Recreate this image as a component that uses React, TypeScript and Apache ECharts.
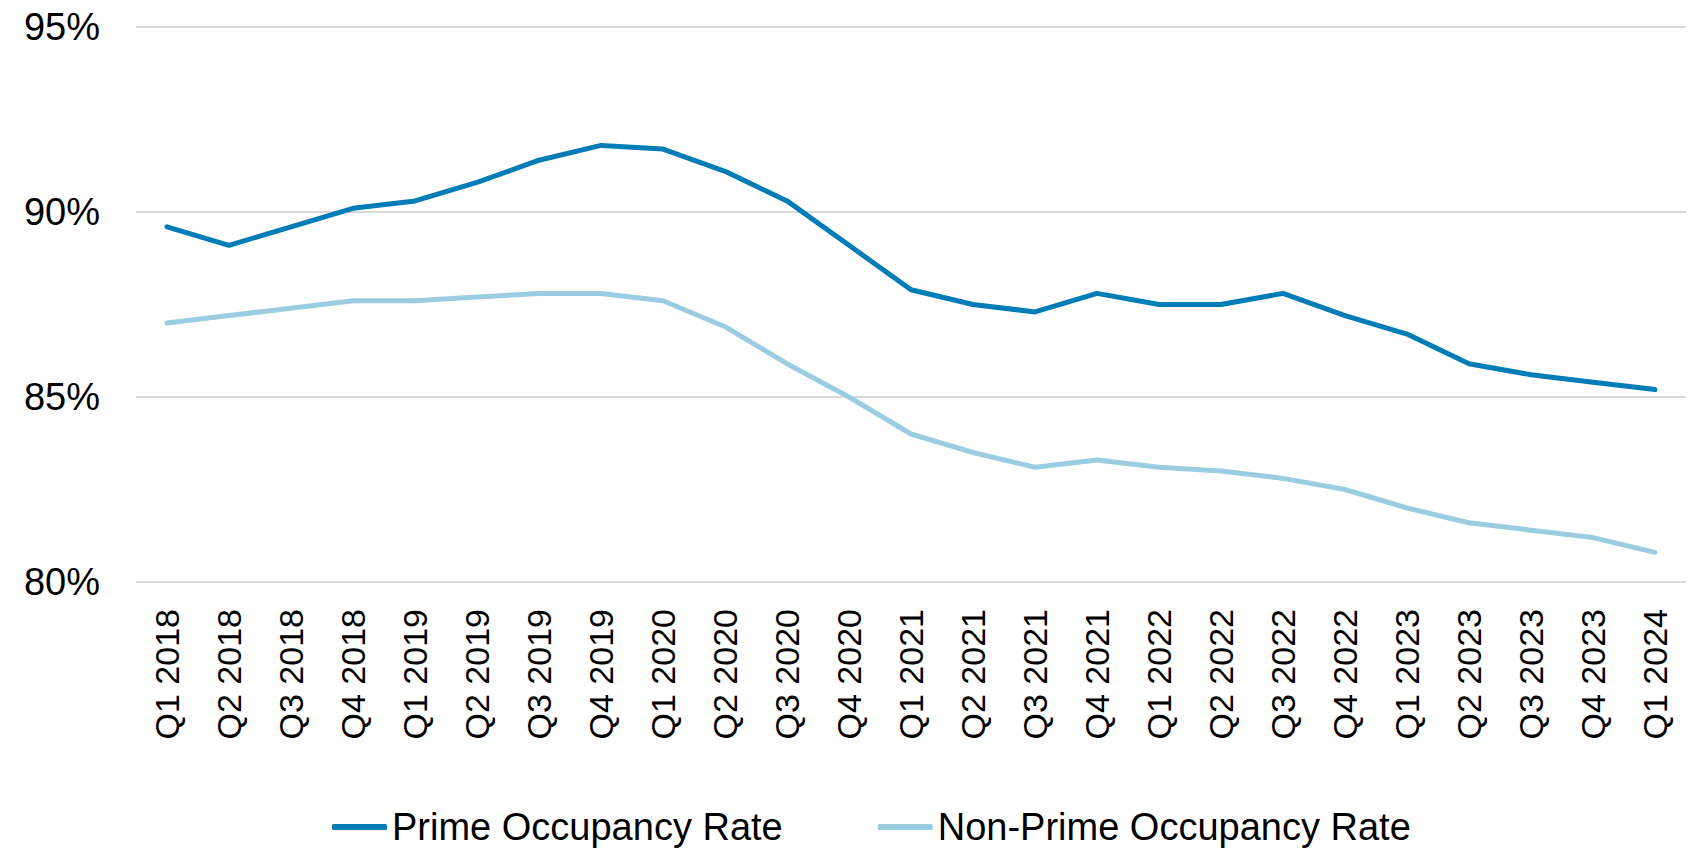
import React, { useEffect, useRef } from "react";
import * as echarts from "echarts";

const categories = [
  "Q1 2018", "Q2 2018", "Q3 2018", "Q4 2018",
  "Q1 2019", "Q2 2019", "Q3 2019", "Q4 2019",
  "Q1 2020", "Q2 2020", "Q3 2020", "Q4 2020",
  "Q1 2021", "Q2 2021", "Q3 2021", "Q4 2021",
  "Q1 2022", "Q2 2022", "Q3 2022", "Q4 2022",
  "Q1 2023", "Q2 2023", "Q3 2023", "Q4 2023",
  "Q1 2024",
];

const primeRate = [
  89.6, 89.1, 89.6, 90.1,
  90.3, 90.8, 91.4, 91.8,
  91.7, 91.1, 90.3, 89.1,
  87.9, 87.5, 87.3, 87.8,
  87.5, 87.5, 87.8, 87.2,
  86.7, 85.9, 85.6, 85.4,
  85.2,
];

const nonPrimeRate = [
  87.0, 87.2, 87.4, 87.6,
  87.6, 87.7, 87.8, 87.8,
  87.6, 86.9, 85.9, 85.0,
  84.0, 83.5, 83.1, 83.3,
  83.1, 83.0, 82.8, 82.5,
  82.0, 81.6, 81.4, 81.2,
  80.8,
];

const FONT = "'Liberation Sans', Arial, sans-serif";

export default function App() {
  const ref = useRef<HTMLDivElement>(null);

  useEffect(() => {
    if (!ref.current) return;
    const chart = echarts.init(ref.current, null, { renderer: "svg" });
    chart.setOption({
      animation: false,
      backgroundColor: "#ffffff",
      grid: { left: 136, right: 12, top: 27, bottom: 270, containLabel: false },
      legend: {
        left: 327,
        top: 803,
        icon: "roundRect",
        itemWidth: 55,
        itemHeight: 6,
        itemGap: 95,
        textStyle: { fontFamily: FONT, fontSize: 38, lineHeight: 38, color: "#000", padding: [0, 0, 0, 0] },
        data: ["Prime Occupancy Rate", "Non-Prime Occupancy Rate"],
      },
      xAxis: {
        type: "category",
        data: categories,
        boundaryGap: true,
        axisLine: { show: false },
        axisTick: { show: false },
        axisLabel: {
          rotate: 90,
          margin: 27,
          interval: 0,
          fontFamily: FONT,
          fontSize: 34,
          color: "#000",
        },
      },
      yAxis: {
        type: "value",
        min: 80,
        max: 95,
        interval: 5,
        axisLine: { show: false },
        axisTick: { show: false },
        splitLine: { lineStyle: { color: "#d9d9d9", width: 2 } },
        axisLabel: {
          formatter: "{value}%",
          margin: 36,
          fontFamily: FONT,
          fontSize: 38,
          color: "#000",
        },
      },
      series: [
        {
          name: "Prime Occupancy Rate",
          type: "line",
          data: primeRate,
          showSymbol: false,
          symbol: "none",
          itemStyle: { color: "#007DB6" },
          lineStyle: { color: "#007DB6", width: 5, cap: "round", join: "round" },
        },
        {
          name: "Non-Prime Occupancy Rate",
          type: "line",
          data: nonPrimeRate,
          showSymbol: false,
          symbol: "none",
          itemStyle: { color: "#9BCDE2" },
          lineStyle: { color: "#9BCDE2", width: 5, cap: "round", join: "round" },
        },
      ],
    });
    return () => chart.dispose();
  }, []);

  return (
    <div
      ref={ref}
      style={{ position: "fixed", left: 0, top: 0, width: 1698, height: 852, background: "#fff" }}
    />
  );
}
